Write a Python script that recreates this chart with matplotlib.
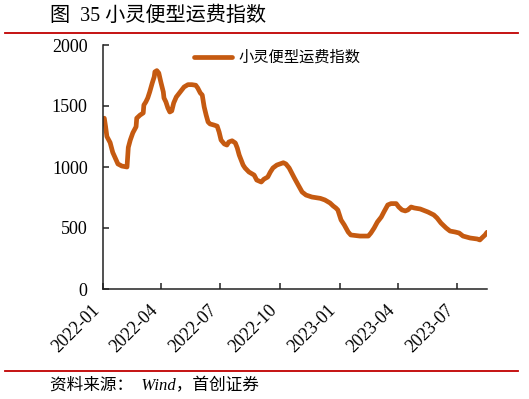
import matplotlib
matplotlib.use("Agg")
import matplotlib.pyplot as plt
import matplotlib.dates as mdates
import pandas as pd

dates = [
    "2022-01-03", "2022-01-05", "2022-01-07", "2022-01-12", "2022-01-16", "2022-01-24",
    "2022-01-30", "2022-02-07", "2022-02-09", "2022-02-12", "2022-02-16", "2022-02-21",
    "2022-02-22", "2022-02-27", "2022-03-04", "2022-03-05", "2022-03-08", "2022-03-11",
    "2022-03-14", "2022-03-18", "2022-03-21", "2022-03-22", "2022-03-25", "2022-03-28",
    "2022-03-31", "2022-04-04", "2022-04-05", "2022-04-08", "2022-04-11", "2022-04-14",
    "2022-04-17", "2022-04-20", "2022-04-24", "2022-04-30", "2022-05-06", "2022-05-12",
    "2022-05-18", "2022-05-24", "2022-05-27", "2022-05-31", "2022-06-03", "2022-06-06",
    "2022-06-09", "2022-06-12", "2022-06-15", "2022-06-21", "2022-06-26", "2022-06-29",
    "2022-07-02", "2022-07-07", "2022-07-11", "2022-07-14", "2022-07-19", "2022-07-24",
    "2022-07-27", "2022-07-30", "2022-08-02", "2022-08-05", "2022-08-08", "2022-08-14",
    "2022-08-22", "2022-08-26", "2022-09-02", "2022-09-06", "2022-09-12", "2022-09-16",
    "2022-09-20", "2022-09-26", "2022-10-06", "2022-10-10", "2022-10-15", "2022-10-19",
    "2022-10-23", "2022-10-29", "2022-11-04", "2022-11-10", "2022-11-19", "2022-12-02",
    "2022-12-09", "2022-12-17", "2022-12-22", "2022-12-26", "2022-12-29", "2023-01-03",
    "2023-01-08", "2023-01-14", "2023-01-18", "2023-02-01", "2023-02-14", "2023-02-18",
    "2023-02-23", "2023-02-28", "2023-03-06", "2023-03-10", "2023-03-16", "2023-03-21",
    "2023-03-29", "2023-04-02", "2023-04-07", "2023-04-12", "2023-04-16", "2023-04-21",
    "2023-04-26", "2023-05-05", "2023-05-17", "2023-05-26", "2023-05-31", "2023-06-06",
    "2023-06-14", "2023-06-20", "2023-06-28", "2023-07-04", "2023-07-10", "2023-07-21",
    "2023-08-01", "2023-08-05", "2023-08-08", "2023-08-13", "2023-08-16",
]
values = [
    1400, 1330, 1250, 1200, 1120, 1025,
    1008, 1000, 1160, 1220, 1280, 1330,
    1400, 1425, 1443, 1508, 1533, 1566,
    1615, 1690, 1740, 1780, 1790, 1770,
    1700, 1615, 1566, 1533, 1484, 1451,
    1460, 1525, 1574, 1615, 1656, 1675,
    1675, 1670, 1648, 1607, 1590, 1492,
    1426, 1369, 1353, 1344, 1335, 1287,
    1221, 1189, 1180, 1205, 1215, 1197,
    1156, 1098, 1057, 1016, 992, 959,
    934, 893, 877, 900, 918, 959,
    992, 1016, 1035, 1025, 992, 951,
    910, 852, 795, 770, 754, 743,
    730, 705, 680, 664, 648, 566,
    525, 467, 443, 434, 434, 459,
    500, 549, 590, 631, 689, 700,
    700, 672, 648, 640, 648, 672,
    664, 656, 631, 607, 582, 541,
    500, 475, 467, 459, 434, 418,
    410, 402, 418, 443, 465,
]
tick_dates = ["2022-01", "2022-04", "2022-07", "2022-10", "2023-01", "2023-04", "2023-07"]
y_ticks = [0, 500, 1000, 1500, 2000]
series_name = "小灵便型运费指数"
title = "图  35 小灵便型运费指数"
source = "资料来源：  Wind，首创证券"

x = pd.to_datetime(dates)
line_color = "#C55A11"
red = "#C00000"
serif_cjk = ["Liberation Serif", "Noto Sans CJK SC", "DejaVu Sans"]

fig = plt.figure(figsize=(5.29, 3.99), dpi=100)
ax = fig.add_axes([103 / 529, 1 - 289 / 399, (487 - 103) / 529, (289 - 45) / 399])

ax.plot(x, values, color=line_color, lw=3.4, solid_capstyle="round", solid_joinstyle="round",
        label=series_name)

ax.set_xlim(pd.Timestamp("2022-01-01"), pd.Timestamp("2023-08-16"))
ax.set_ylim(0, 2000)
ax.set_yticks(y_ticks)
ax.set_xticks(pd.to_datetime(tick_dates))
ax.xaxis.set_major_formatter(mdates.DateFormatter("%Y-%m"))

for s in ["top", "right"]:
    ax.spines[s].set_visible(False)
for s in ["left", "bottom"]:
    ax.spines[s].set_linewidth(1.1)
    ax.spines[s].set_color("#222222")

ax.tick_params(axis="both", direction="in", length=4, width=1.1, color="#222222")
ax.tick_params(axis="y", pad=11)
ax.tick_params(axis="x", pad=9)
for lab in ax.get_yticklabels():
    lab.set_fontfamily("Liberation Serif")
    lab.set_fontsize(13)
for lab in ax.get_xticklabels():
    lab.set_fontfamily("Liberation Serif")
    lab.set_fontsize(13)
    lab.set_rotation(45)
    lab.set_ha("right")

leg = ax.legend(loc="upper left", bbox_to_anchor=(0.2, 1.04), frameon=False,
                handlelength=2.5, handletextpad=0.45,
                prop={"family": ["Noto Sans CJK SC", "DejaVu Sans"], "size": 11})

fig.text(50 / 529, 1 - 16 / 399, title, fontsize=14.5, va="center", ha="left",
         family=serif_cjk)
fig.add_artist(plt.Line2D([5 / 529, 518 / 529], [1 - 32.5 / 399, 1 - 32.5 / 399],
                          color=red, lw=1.3, transform=fig.transFigure))
fig.add_artist(plt.Line2D([5 / 529, 518 / 529], [1 - 371 / 399, 1 - 371 / 399],
                          color=red, lw=1.3, transform=fig.transFigure))
fig.text(50 / 529, 1 - 386 / 399, source, fontsize=12, va="center", ha="left",
         style="italic", family=serif_cjk)

fig.savefig("out.png", dpi=100)
